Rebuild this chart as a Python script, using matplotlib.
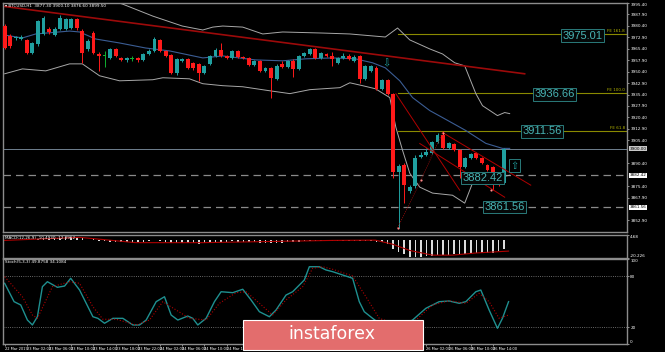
import numpy as np
import matplotlib.pyplot as plt
from matplotlib.patches import Rectangle

# BTCUSD H1 candles
opens = [3980.3, 3973.8, 3972.3, 3971.8, 3971.2, 3962.7, 3968.5, 3975.1, 3978.3, 3974.4,
         3978.3, 3978.3, 3979.0, 3984.9, 3977.0, 3965.3, 3975.7, 3962.0, 3961.0, 3959.4,
         3965.3, 3959.4, 3958.1, 3959.1, 3959.4, 3958.1, 3962.0, 3964.0, 3971.2, 3964.0,
         3961.4, 3949.6, 3957.5, 3958.8, 3956.2, 3955.5, 3949.6, 3955.5, 3960.7, 3964.6,
         3960.7, 3959.4, 3964.0, 3960.1, 3959.4, 3954.9, 3957.5, 3950.9, 3952.9, 3945.7,
         3955.5, 3953.5, 3957.5, 3952.2, 3960.7, 3962.0, 3965.3, 3959.4, 3962.0, 3960.7,
         3956.2, 3959.4, 3960.7, 3957.5, 3960.7, 3945.7, 3950.9, 3952.9, 3939.2, 3945.1,
         3936.0, 3884.5, 3889.0, 3872.1, 3875.3, 3894.2, 3895.5, 3896.8, 3904.0, 3908.6,
         3900.1, 3902.7, 3898.8, 3887.7, 3893.6, 3896.8, 3893.6, 3889.0, 3887.7, 3877.9,
         3877.3]
highs = [3981.6, 3975.1, 3973.8, 3974.4, 3971.8, 3969.8, 3984.2, 3986.8, 3979.6, 3979.6,
         3987.5, 3985.5, 3985.5, 3985.5, 3978.3, 3971.8, 3977.0, 3963.3, 3964.0, 3965.9,
         3965.9, 3960.1, 3960.1, 3960.7, 3960.1, 3962.7, 3965.3, 3973.1, 3971.8, 3964.6,
         3962.0, 3959.4, 3959.4, 3959.4, 3956.8, 3956.2, 3954.9, 3961.4, 3965.9, 3969.2,
         3961.4, 3964.6, 3964.6, 3960.7, 3960.1, 3958.1, 3958.1, 3953.5, 3953.5, 3955.5,
         3957.5, 3958.1, 3958.8, 3961.4, 3963.3, 3965.9, 3965.9, 3963.3, 3962.7, 3963.3,
         3960.1, 3962.7, 3962.0, 3961.4, 3961.4, 3954.9, 3954.9, 3954.2, 3945.7, 3945.7,
         3936.6, 3889.7, 3890.3, 3876.0, 3895.5, 3897.5, 3900.1, 3904.7, 3909.9, 3911.2,
         3904.0, 3903.4, 3899.5, 3894.2, 3896.8, 3897.5, 3894.2, 3889.7, 3888.4, 3878.6,
         3900.1]
lows = [3965.3, 3965.9, 3971.2, 3971.2, 3962.0, 3962.0, 3967.2, 3974.4, 3975.1, 3973.8,
        3977.7, 3977.7, 3978.3, 3977.7, 3956.2, 3964.0, 3962.0, 3950.9, 3953.5, 3958.8,
        3960.1, 3957.5, 3956.8, 3957.5, 3956.8, 3957.5, 3961.4, 3963.3, 3963.3, 3960.1,
        3949.0, 3948.3, 3956.8, 3952.2, 3951.6, 3944.4, 3949.0, 3954.9, 3960.1, 3960.1,
        3958.8, 3958.8, 3959.4, 3958.8, 3954.2, 3954.2, 3950.3, 3950.3, 3933.4, 3945.1,
        3952.9, 3952.9, 3947.0, 3951.6, 3960.1, 3961.4, 3958.8, 3958.8, 3960.1, 3954.2,
        3955.5, 3958.8, 3958.1, 3956.8, 3943.1, 3945.1, 3950.3, 3938.6, 3938.6, 3935.3,
        3880.5, 3847.9, 3864.2, 3870.8, 3874.0, 3893.6, 3894.9, 3896.2, 3903.4, 3899.5,
        3899.5, 3898.1, 3880.5, 3887.1, 3892.9, 3892.9, 3889.7, 3885.1, 3872.7, 3875.3,
        3876.6]
closes = [3966.1, 3967.2, 3973.1, 3973.1, 3962.7, 3969.2, 3983.6, 3985.5, 3976.4, 3978.3,
          3985.5, 3984.9, 3984.9, 3979.0, 3962.7, 3970.5, 3962.7, 3960.7, 3961.0, 3965.3,
          3960.7, 3958.1, 3959.4, 3959.1, 3958.1, 3962.0, 3964.0, 3971.8, 3964.0, 3960.7,
          3949.6, 3958.8, 3958.8, 3952.9, 3952.9, 3949.6, 3954.2, 3960.7, 3964.6, 3960.7,
          3959.4, 3964.0, 3960.1, 3959.4, 3954.9, 3957.5, 3950.9, 3952.9, 3946.4, 3954.2,
          3953.5, 3957.5, 3952.2, 3960.7, 3962.7, 3965.3, 3959.4, 3962.7, 3960.7, 3958.8,
          3959.4, 3960.7, 3958.8, 3960.1, 3945.7, 3954.2, 3954.2, 3939.2, 3945.1, 3936.0,
          3884.5, 3888.4, 3876.0, 3874.7, 3893.6, 3895.5, 3897.5, 3904.0, 3908.6, 3900.1,
          3903.4, 3898.8, 3887.7, 3893.6, 3896.2, 3893.6, 3890.3, 3885.8, 3877.9, 3876.6,
          3899.5]

# Bollinger bands (bar index, price)
bb_up_x = [0, 15, 19.5, 21.3, 26.7, 32, 35.7, 37.5, 39.3, 42.9, 46.5, 50.1, 57.3, 62.2, 68.6,
           70.8, 73, 76.6, 78.9, 81.1, 82.9, 84.9, 86.1, 88.8, 90.1, 91]
bb_up_y = [4012, 4000, 3996.6, 3994.6, 3986.8, 3980.3, 3977.7, 3979.6, 3980.3, 3979.6, 3975.1,
           3976.4, 3975.7, 3975.1, 3973.1, 3979.0, 3971.2, 3965.3, 3962.0, 3956.2, 3954.2,
           3936.0, 3928.1, 3921.6, 3923.6, 3922.9]
bb_mid_x = [0, 3.2, 5.6, 11.7, 13.5, 16.4, 20.7, 25.4, 29.7, 35.7, 39.3, 45.2, 50.1, 54.2, 59.1,
            63.2, 66.3, 68.6, 71.2, 73.5, 76.6, 78.9, 83.1, 86.7, 89.7, 91]
bb_mid_y = [3974.4, 3972.5, 3975.1, 3977.0, 3976.4, 3971.8, 3969.2, 3965.9, 3964.0, 3959.4,
            3960.7, 3958.1, 3957.5, 3958.8, 3959.4, 3958.8, 3956.2, 3952.9, 3944.4, 3933.4,
            3924.9, 3920.3, 3911.8, 3903.4, 3900.1, 3900.1]
bb_low_x = [0, 3.2, 7.4, 11.7, 14, 17.1, 20.7, 26.7, 28.5, 33.3, 35.7, 39.3, 42.9, 47.7, 51.4,
            55, 60.4, 62.2, 64.5, 66.8, 69.4, 70.5, 71.7, 73, 74.8, 77.1, 80.7, 82.9, 84.3,
            86.1, 87.9, 89.2, 91]
bb_low_y = [3949.0, 3952.2, 3950.9, 3955.5, 3955.5, 3947.7, 3944.4, 3945.1, 3946.4, 3945.7,
            3942.5, 3941.2, 3940.5, 3937.9, 3936.0, 3938.6, 3939.9, 3943.1, 3941.2, 3939.2,
            3933.4, 3913.8, 3898.8, 3883.8, 3874.7, 3870.8, 3869.4, 3864.2, 3877.3, 3883.8,
            3883.8, 3881.2, 3882.5]

# trend line and fibo expansion levels
trend_x = [-0.4, 93.7]
trend_y = [3993.3, 3949.0]
fibo_levels = [3975.01, 3936.66, 3911.56]
fibo_names = ['FE 161.8', 'FE 100.0', 'FE 61.8']
fibo_start = 70.8
last_price = 3900.00
support_levels = [3882.42, 3861.56]

# boxed price labels (bar index, price, text)
box_x = [104.1, 99.1, 96.9, 86.1, 90.1]
box_y = [3974.0, 3935.6, 3911.2, 3880.8, 3861.6]
box_txt = ['3975.01', '3936.66', '3911.56', '3882.42', '3861.56']

# zigzag / channel lines
zz_x = [70.8, 75.0, 78.9]
zz_y = [3847.9, 3879.2, 3910.5]
dot_x = [70.8, 75.0, 78.9, 87.7]
dot_y = [3847.9, 3879.2, 3910.5, 3872.7]
ch_lines = [([70.5, 82.0], [3935.9, 3872.7]),
            ([74.8, 90.1], [3903.3, 3868.1]),
            ([78.9, 94.8], [3910.5, 3876.0])]

# MACD histogram and signal
macd_hist = [-0.5, -0.8, -0.5, -0.3, -0.6, -0.4, 0.5, 1.2, 1.0, 1.2,
             2.0, 2.5, 2.8, 2.5, 1.5, -0.5, 0.2, -1.5, -2.0, -2.5,
             -2.5, -3.0, -3.2, -3.5, -3.2, -3.0, -2.0, -1.0, -2.0, -2.5,
             -3.5, -3.5, -3.5, -3.8, -4.0, -4.5, -4.0, -3.5, -2.5, -2.5,
             -2.5, -2.0, -2.5, -2.5, -3.0, -3.0, -3.5, -3.5, -4.0, -3.5,
             -3.5, -3.0, -3.0, -2.5, -2.0, -1.5, -1.5, -1.5, -1.5, -1.5,
             -1.5, -1.5, -1.5, -1.5, -2.0, -2.0, -1.5, -2.5, -3.0, -5.5,
             -11.0, -14.0, -16.5, -19.0, -19.5, -19.0, -18.5, -18.0, -17.5, -17.5,
             -17.0, -16.5, -16.5, -16.0, -15.5, -15.5, -15.0, -15.0, -14.5, -13.0,
             -10.5]
sig_x = [0, 13.5, 17.7, 23.6, 35.7, 59.1, 66.8, 69.9, 73, 77.1, 80.7, 84.9, 90.8]
sig_y = [-1.0, 2.4, 0.0, -3.5, -3.5, -1.0, -0.7, -5.2, -12.2, -17.4, -17.4, -15.0, -12.9]

# Stochastic %K and %D
k_x = [0, 1.7, 2.9, 4.1, 5.0, 5.9, 6.8, 7.7, 9.5, 10.8, 11.9, 13.5, 15.9, 16.8, 18.0, 19.5,
       21.3, 23.1, 24.3, 25.5, 27.3, 28.8, 30.0, 31.2, 33.0, 33.9, 34.8, 36.3, 37.8, 39.0,
       41.1, 42.9, 44.4, 45.9, 47.7, 48.9, 50.7, 51.9, 54.0, 54.9, 56.7, 57.9, 59.1, 62.7,
       63.9, 64.8, 66.3, 67.5, 71.1, 73.5, 75.9, 78.3, 80.1, 81.9, 83.1, 84.9, 85.8, 87.3,
       88.8, 89.7, 90.8]
k_y = [71.4, 49.8, 45.9, 28.2, 22.4, 32.1, 67.4, 73.3, 66.7, 68.2, 77.3, 63.5, 32.1, 30.2,
       24.4, 30.2, 30.2, 22.4, 22.4, 28.2, 49.8, 55.6, 34.1, 28.2, 32.9, 30.2, 22.4, 30.2,
       49.8, 61.5, 60.4, 64.4, 51.8, 38.0, 32.1, 40.0, 57.6, 61.5, 75.3, 90.9, 90.9, 87.1,
       85.1, 77.3, 49.8, 38.0, 30.2, 24.4, 20.4, 28.2, 42.0, 49.8, 50.6, 47.9, 49.8, 61.5,
       63.5, 40.0, 18.5, 30.2, 49.8]
d_x = [0, 3.2, 5.0, 5.9, 8.6, 11.7, 13.5, 15.9, 17.7, 20.1, 23.7, 26.1, 28.5, 30.9, 33.3,
       36.3, 38.7, 41.7, 43.5, 45.9, 48.3, 50.7, 53.7, 55.5, 57.3, 59.1, 62.7, 65.1, 67.5,
       71.1, 74.1, 77.1, 80.1, 83.1, 85.5, 87.3, 89.1, 90.8]
d_y = [79.2, 55.6, 34.1, 30.2, 67.4, 73.3, 71.4, 43.9, 29.1, 29.1, 22.4, 28.2, 49.8, 40.0,
       30.2, 28.2, 47.9, 60.4, 61.5, 47.9, 34.1, 51.8, 67.4, 89.1, 90.9, 87.9, 80.0, 55.6,
       30.2, 22.4, 28.2, 45.9, 50.9, 47.9, 59.6, 49.8, 30.2, 34.1]

# right-axis price labels (those hidden under the marker boxes are left out)
price_ticks = [3995.40, 3987.90, 3980.40, 3972.90, 3965.40, 3957.90, 3950.40, 3942.90,
               3935.40, 3927.90, 3920.40, 3912.90, 3905.40, 3890.40,
               3875.40, 3867.90, 3852.90]
# time labels; the ones under the logo are not visible
time_idx = [0, 4, 8, 12, 16, 20, 24, 28, 32, 36, 40, 76, 80, 84, 88]
time_labels = ['22 Mar 2019', '23 Mar 02:00', '23 Mar 06:00', '23 Mar 10:00', '23 Mar 14:00',
               '23 Mar 18:00', '23 Mar 22:00', '24 Mar 02:00', '24 Mar 06:00', '24 Mar 10:00',
               '24 Mar 14:00', '26 Mar 02:00', '26 Mar 06:00', '26 Mar 10:00', '26 Mar 14:00']

BG = 'black'
BULL = '#20a0a0'
BEAR = '#ff1a1a'
EDGE = '#8c8c8c'
TEAL_TXT = '#48b4b4'
XLIM = (-0.3, 112.1)

fig = plt.figure(figsize=(6.65, 3.52), dpi=100, facecolor=BG)
ax = fig.add_axes([0.0045, 0.3409, 0.938, 0.6506], facecolor=BG)
ax2 = fig.add_axes([0.0045, 0.267, 0.938, 0.0653], facecolor=BG)
ax3 = fig.add_axes([0.0045, 0.0227, 0.938, 0.2415], facecolor=BG)

for a in (ax, ax2, ax3):
    a.set_xlim(*XLIM)
    a.yaxis.tick_right()
    a.tick_params(axis='y', colors='white', labelsize=3, length=1.5, width=0.4, pad=1)
    for s in a.spines.values():
        s.set_color(EDGE)
        s.set_linewidth(1.0)
ax.tick_params(axis='x', bottom=False, labelbottom=False)
ax2.tick_params(axis='x', bottom=False, labelbottom=False)

# --- price panel ---
x = np.arange(len(closes))
o = np.array(opens)
c = np.array(closes)
cols = np.where(c > o, BULL, np.where(c < o, BEAR, '#10b030'))
ax.vlines(x, lows, highs, colors=cols, lw=0.7, zorder=3)
body = np.where(c == o, 0.35, np.abs(c - o))
ax.bar(x, body, bottom=np.minimum(o, c) - np.where(c == o, 0.17, 0), width=0.7,
       color=cols, lw=0, zorder=4)

ax.plot(bb_up_x, bb_up_y, color='#a8a8a8', lw=0.7, zorder=2)
ax.plot(bb_low_x, bb_low_y, color='#a8a8a8', lw=0.7, zorder=2)
ax.plot(bb_mid_x, bb_mid_y, color='#3b5d94', lw=0.8, zorder=2)
ax.plot(trend_x, trend_y, color='#9c0a0a', lw=1.2, zorder=2)

for lv, nm in zip(fibo_levels, fibo_names):
    ax.plot([fibo_start, XLIM[1]], [lv, lv], color='#8a8a00', lw=0.8, zorder=1)
    ax.text(0.997, lv + 0.6, nm, transform=ax.get_yaxis_transform(), ha='right', va='bottom',
            fontsize=3, color='#b5b500')

ax.axhline(last_price, color='#6f7f8f', lw=0.7, zorder=1)
for lv in support_levels:
    ax.axhline(lv, color='#8a8a8a', lw=0.9, ls=(0, (6, 4)), zorder=1)

ax.plot(zz_x, zz_y, color='#c01010', lw=0.6, ls=':', zorder=5)
ax.scatter(dot_x, dot_y, s=2.5, color='#ff8a8a', zorder=6, lw=0)
for lx, ly in ch_lines:
    ax.plot(lx, ly, color='#b00000', lw=0.7, zorder=5)

for bx, by, bt in zip(box_x, box_y, box_txt):
    ax.text(bx, by, bt, ha='center', va='center', fontsize=8, family='Liberation Sans',
            color=TEAL_TXT, zorder=7,
            bbox=dict(boxstyle='square,pad=0.12', fc='#050808', ec='#2a7a7a', lw=0.7))

ax.text(68.8, 3955.8, '\u21e9', ha='center', va='center', fontsize=7, color=BULL, zorder=7)
ax.text(91.9, 3888.7, '\u21e7', ha='center', va='center', fontsize=7, color=BULL, zorder=7,
        bbox=dict(boxstyle='square,pad=0.15', fc='none', ec='#2a7a7a', lw=0.7))

ax.set_ylim(3845.3, 3994.6)
ax.set_yticks(price_ticks)
ax.set_yticklabels([f'{t:.2f}' for t in price_ticks])
ax.get_yticklabels()[0].set_va('top')
ytr = ax.get_yaxis_transform()
ax.text(1.004, last_price, f'{last_price:.2f}', transform=ytr, fontsize=3, color='black',
        va='center', ha='left', bbox=dict(boxstyle='square,pad=0.15', fc='#c8c8c8', ec='none'))
for lv in support_levels:
    ax.text(1.004, lv, f'{lv:.2f}', transform=ytr, fontsize=3, color='black', va='center',
            ha='left', bbox=dict(boxstyle='square,pad=0.15', fc='white', ec='none'))

ax.text(0.004, 0.995, '\u25be BTCUSD,H1  3877.30 3900.10 3876.60 3899.50', transform=ax.transAxes,
        fontsize=3, color='white', va='top')

# --- MACD panel ---
ax2.bar(x, macd_hist, width=0.28, color='#dcdcdc', lw=0)
ax2.plot(sig_x, sig_y, color='#b00000', lw=0.8)
ax2.set_ylim(-20.6, 5.0)
ax2.set_yticks([4.68, -20.226])
ax2.set_yticklabels(['4.68', '-20.226'])
ax2.get_yticklabels()[0].set_va('top')
ax2.get_yticklabels()[1].set_va('bottom')
ax2.text(0.004, 0.95, 'MACD(12,26,9) -10.4930 -12.8962', transform=ax2.transAxes,
         fontsize=3, color='white', va='top')

# --- Stochastic panel ---
ax3.axhline(80, color='#8a8a8a', lw=0.6, ls=':')
ax3.axhline(20, color='#8a8a8a', lw=0.6, ls=':')
ax3.plot(k_x, k_y, color='#1f9090', lw=1.0)
ax3.plot(d_x, d_y, color='#b00000', lw=0.8, ls=':')
ax3.set_ylim(0, 100)
ax3.set_yticks([100, 80, 20, 0])
ax3.set_yticklabels(['100', '80', '20', '0'])
ax3.get_yticklabels()[0].set_va('top')
ax3.get_yticklabels()[3].set_va('bottom')
ax3.set_xticks(time_idx)
ax3.set_xticklabels(time_labels, ha='left')
ax3.tick_params(axis='x', colors='white', labelsize=2.6, length=1.5, width=0.4, pad=1)
ax3.text(0.004, 0.985, 'Stoch(5,3,3) 49.8758 34.1084', transform=ax3.transAxes,
         fontsize=3, color='white', va='top')

# --- logo ---
fig.patches.append(Rectangle((0.3654, 0.0057), 0.2706, 0.0852, transform=fig.transFigure,
                             fc='#e36d6d', ec='white', lw=0.8, zorder=10))
fig.text(0.4985, 0.051, 'instaforex', ha='center', va='center', fontsize=12.5,
         color='white', zorder=11)

fig.savefig('out.png', dpi=100, facecolor=BG)
